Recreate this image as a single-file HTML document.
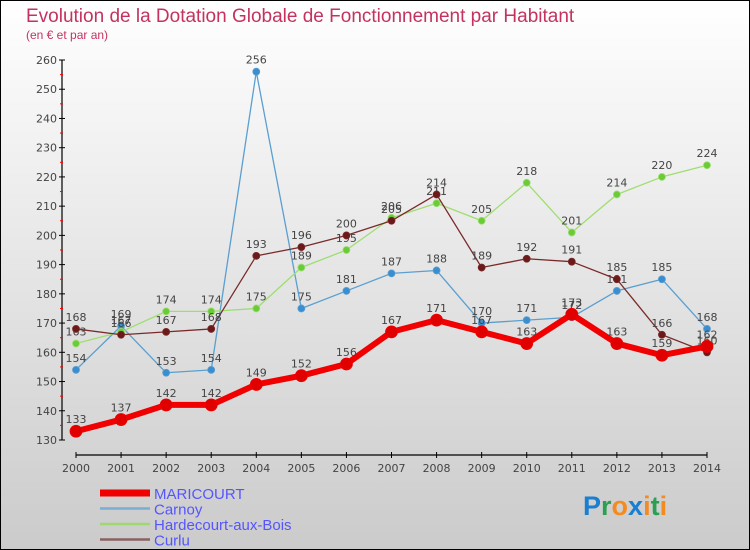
<!DOCTYPE html>
<html><head><meta charset="utf-8"><style>
body{margin:0;width:750px;height:550px;overflow:hidden}
svg{display:block;font-family:"DejaVu Sans","Liberation Sans",sans-serif}
</style></head><body>
<svg width="750" height="550">
<defs><linearGradient id="bg" x1="0" y1="0" x2="0" y2="1"><stop offset="0" stop-color="#ffffff"/><stop offset="1" stop-color="#cbcbcb"/></linearGradient></defs>
<rect x="0.5" y="0.5" width="749" height="549" fill="url(#bg)" stroke="#000"/>
<text x="26" y="22" font-size="19" fill="#c4335f" font-family="Liberation Sans,sans-serif">Evolution de la Dotation Globale de Fonctionnement par Habitant</text>
<text x="26" y="39" font-size="12" fill="#c4335f" font-family="Liberation Sans,sans-serif">(en € et par an)</text>
<g id="axes"></g><g id="series"></g><g id="legend"></g>
<text x="583" y="515" font-size="27" font-weight="bold" font-family="Liberation Sans,sans-serif"><tspan fill="#1a7fd0">P</tspan><tspan fill="#2aa050">r</tspan><tspan fill="#f58a1f">o</tspan><tspan fill="#1a7fd0">x</tspan><tspan fill="#f58a1f">i</tspan><tspan fill="#2aa050">t</tspan><tspan fill="#f58a1f">i</tspan></text>
</svg>
<script>
const years=[2000,2001,2002,2003,2004,2005,2006,2007,2008,2009,2010,2011,2012,2013,2014];
const yTicks=[130,140,150,160,170,180,190,200,210,220,230,240,250,260];
const maricourt=[133,137,142,142,149,152,156,167,171,167,163,173,163,159,162];
const carnoy=[154,169,153,154,256,175,181,187,188,170,171,172,181,185,168];
const hardecourt=[163,167,174,174,175,189,195,206,211,205,218,201,214,220,224];
const curlu=[168,166,167,168,193,196,200,205,214,189,192,191,185,166,160];
const NS="http://www.w3.org/2000/svg";
function X(i){return 76+i*(707-76)/(years.length-1);}
function Y(v){return 440-(v-130)*(380/130);}
function mk(t,a,p){const e=document.createElementNS(NS,t);for(const k in a)e.setAttribute(k,a[k]);p.appendChild(e);return e;}
const ax=document.getElementById('axes');
let e=mk('line',{x1:62,y1:Y(260),x2:62,y2:Y(130),stroke:'#000','stroke-width':1.2},ax);

e=mk('line',{x1:76,y1:455,x2:707,y2:455,stroke:'#000','stroke-width':1.2},ax);

yTicks.forEach(v=>{
 mk('line',{x1:59,y1:Y(v),x2:65,y2:Y(v),stroke:'#000'},ax);
 if(v<260)mk('line',{x1:60,y1:Y(v+5),x2:63,y2:Y(v+5),stroke:'#f00'},ax);
 const t=mk('text',{x:57,y:Y(v)+4,'text-anchor':'end','font-size':11,fill:'#444'},ax);t.textContent=v;
 
});
years.forEach((y,i)=>{
 mk('line',{x1:X(i),y1:452,x2:X(i),y2:458,stroke:'#000'},ax);
 const t=mk('text',{x:X(i),y:472,'text-anchor':'middle','font-size':11,fill:'#444'},ax);t.textContent=y;
 
});
const sg=document.getElementById('series');
function draw(name,data,color,dot,w,r){
 const g=mk('g',{},sg);
 
 const pl=mk('polyline',{points:data.map((v,i)=>X(i)+','+Y(v)).join(' '),fill:'none',stroke:color,'stroke-width':w,'stroke-linejoin':'round'},g);
 
 data.forEach((v,i)=>{
  const c=mk('circle',{cx:X(i),cy:Y(v),r:r,fill:dot,stroke:color,'stroke-width':0.8},g);
  
  const t=mk('text',{x:X(i),y:Y(v)-8,'text-anchor':'middle','font-size':11,fill:'#444'},g);t.textContent=v;
  
 });
}
draw('carnoy',carnoy,'#5a9fd0','#3a8ed0',1.3,3.5);
draw('hardecourt',hardecourt,'#9ede70','#6acb38',1.3,3.5);
draw('curlu',curlu,'#7a2a2a','#6b1a1a',1.3,3.5);
draw('maricourt',maricourt,'#f00000','#e00000',6,6);
const lg=document.getElementById('legend');
[['MARICOURT','#f00000',7],['Carnoy','#7aaed0',2.5],['Hardecourt-aux-Bois','#9ed870',2.5],['Curlu','#8a6060',2.5]].forEach((d,i)=>{
 const y=493+i*15.5;
 const g=mk('g',{},lg);
 mk('line',{x1:100,y1:y,x2:150,y2:y,stroke:d[1],'stroke-width':d[2]},g);
 const t=mk('text',{x:154,y:y+6,'font-size':15,fill:'#5555ff','font-family':'Liberation Sans,sans-serif'},g);t.textContent=d[0];
});
</script>
</body></html>
